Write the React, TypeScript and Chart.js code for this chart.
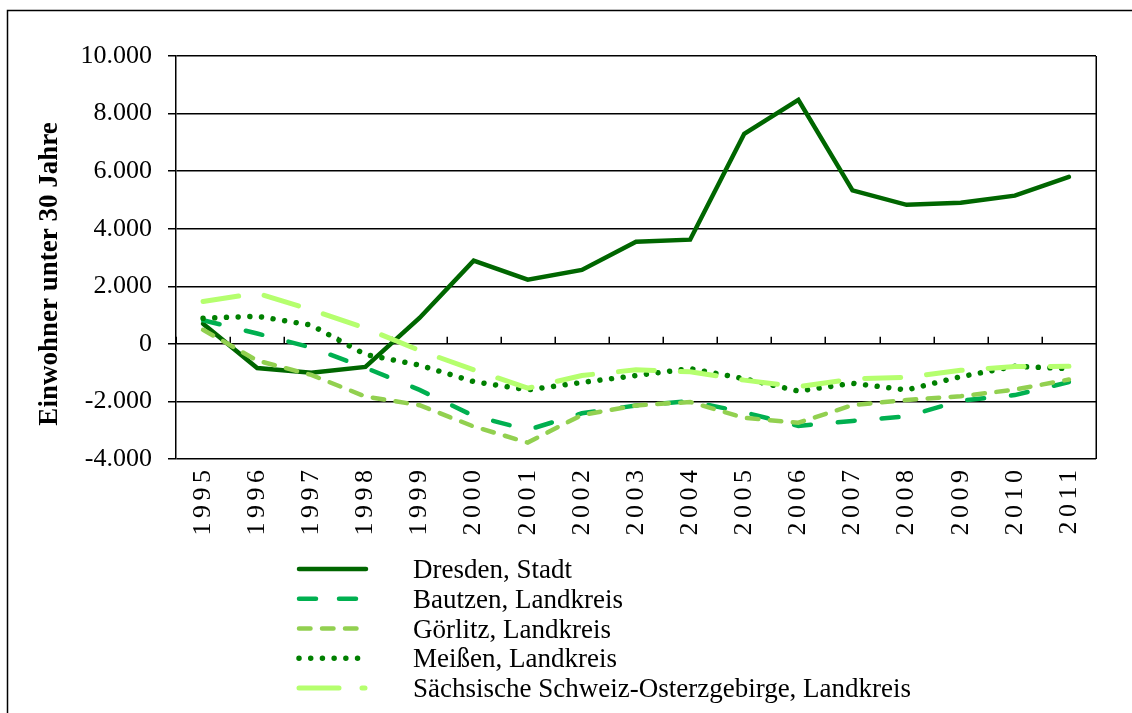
import React, { useEffect, useRef } from 'react';
import { Chart, registerables } from 'chart.js';

Chart.register(...registerables);

const YEARS = ['1995', '1996', '1997', '1998', '1999', '2000', '2001', '2002', '2003', '2004', '2005', '2006', '2007', '2008', '2009', '2010', '2011'];

const DRESDEN = [700, -840, -1000, -800, 900, 2890, 2230, 2570, 3550, 3620, 7300, 8480, 5330, 4830, 4900, 5150, 5800];
const BAUTZEN = [820, 360, -130, -830, -1600, -2500, -2990, -2410, -2140, -1990, -2380, -2850, -2680, -2520, -1970, -1780, -1330];
const GOERLITZ = [490, -580, -1080, -1830, -2130, -2870, -3430, -2470, -2140, -2020, -2570, -2740, -2130, -1950, -1820, -1590, -1240];
const MEISSEN = [890, 960, 650, -370, -740, -1310, -1600, -1340, -1100, -860, -1210, -1640, -1370, -1600, -1140, -780, -860];
const SAECHSISCHE = [1470, 1760, 1180, 545, -230, -900, -1540, -1100, -900, -970, -1260, -1490, -1220, -1160, -920, -790, -780];

const SERIES_NAMES = [
  'Dresden, Stadt',
  'Bautzen, Landkreis',
  'Görlitz, Landkreis',
  'Meißen, Landkreis',
  'Sächsische Schweiz-Osterzgebirge, Landkreis',
];

const Y_MIN = -4000;
const Y_MAX = 10000;
const Y_STEP = 2000;
const Y_TITLE = 'Einwohner unter 30 Jahre';

const FONT = '"Liberation Serif", "Times New Roman", serif';

function formatDE(v: number): string {
  const s = Math.abs(v).toString().replace(/\B(?=(\d{3})+(?!\d))/g, '.');
  return (v < 0 ? '-' : '') + s;
}

const framePlugin = {
  id: 'frame',
  beforeDraw(chart: any) {
    const { ctx, width, height } = chart;
    ctx.save();
    ctx.fillStyle = '#fff';
    ctx.fillRect(0, 0, width, height);
    ctx.strokeStyle = '#000';
    ctx.lineWidth = 1.5;
    ctx.beginPath();
    ctx.moveTo(7.5, height + 2);
    ctx.lineTo(7.5, 10.5);
    ctx.lineTo(width + 2, 10.5);
    ctx.stroke();
    ctx.restore();
  },
  beforeDatasetsDraw(chart: any) {
    const { ctx, chartArea, scales } = chart;
    const xs = scales.x;
    const ys = scales.y;
    const zeroY = ys.getPixelForValue(0);
    const half = (xs.getPixelForValue(1) - xs.getPixelForValue(0)) / 2;
    ctx.save();
    ctx.strokeStyle = '#000';
    ctx.lineWidth = 1.5;
    ctx.beginPath();
    for (let i = 0; i <= YEARS.length; i++) {
      const x = Math.round(xs.getPixelForValue(i) - half) + 0.25;
      ctx.moveTo(x, zeroY);
      ctx.lineTo(x, zeroY - 7);
    }
    // right border of plot area
    ctx.moveTo(chartArea.right + 0.25, chartArea.top);
    ctx.lineTo(chartArea.right + 0.25, chartArea.bottom);
    ctx.stroke();
    ctx.restore();
  },
  afterDraw(chart: any) {
    const { ctx, chartArea, scales } = chart;

    // x category labels (rotated, spaced)
    const xs = scales.x;
    const spacing = 4.5;
    chart.data.labels.forEach((lab: string, i: number) => {
      ctx.save();
      ctx.translate(xs.getPixelForValue(i), chartArea.bottom + 11);
      ctx.rotate(-Math.PI / 2);
      ctx.font = '26px ' + FONT;
      (ctx as any).letterSpacing = spacing + 'px';
      ctx.fillStyle = '#000';
      ctx.textAlign = 'right';
      ctx.textBaseline = 'middle';
      ctx.fillText(lab, spacing, 0);
      ctx.restore();
    });

    ctx.save();
    // y axis title
    ctx.translate(50, 274);
    ctx.rotate(-Math.PI / 2);
    ctx.font = 'bold 27px ' + FONT;
    ctx.fillStyle = '#000';
    ctx.textAlign = 'center';
    ctx.textBaseline = 'middle';
    ctx.fillText(Y_TITLE, 0, 0);
    ctx.restore();

    // legend
    ctx.save();
    chart.data.datasets.forEach((ds: any, i: number) => {
      const y = 569 + i * 29.75;
      ctx.beginPath();
      ctx.setLineDash(ds.legendDash || []);
      ctx.lineDashOffset = 0;
      ctx.lineCap = 'round';
      ctx.strokeStyle = ds.borderColor;
      ctx.lineWidth = ds.borderWidth;
      ctx.moveTo(299, y);
      ctx.lineTo(366, y);
      ctx.stroke();
      ctx.setLineDash([]);
      ctx.fillStyle = '#000';
      ctx.font = '27px ' + FONT;
      ctx.textAlign = 'left';
      ctx.textBaseline = 'middle';
      ctx.fillText(ds.label, 413, y + 2);
    });
    ctx.restore();
  },
};

export default function App() {
  const ref = useRef<HTMLCanvasElement>(null);

  useEffect(() => {
    if (!ref.current) return;
    const common = {
      pointRadius: 0,
      pointHoverRadius: 0,
      tension: 0,
      fill: false,
      borderCapStyle: 'round',
    };
    const chart = new Chart(ref.current, {
      type: 'line',
      data: {
        labels: YEARS,
        datasets: [
          { ...common, label: SERIES_NAMES[0], data: DRESDEN, borderColor: '#006600', borderWidth: 4.5, borderDash: [], legendDash: [], order: 5 },
          { ...common, label: SERIES_NAMES[1], data: BAUTZEN, borderColor: '#00B050', borderWidth: 4.5, borderDash: [17, 27], legendDash: [17, 23], order: 4 },
          { ...common, label: SERIES_NAMES[2], data: GOERLITZ, borderColor: '#92D050', borderWidth: 4.5, borderDash: [11.5, 11.5], legendDash: [11.5, 11.5], order: 3 },
          { ...common, label: SERIES_NAMES[3], data: MEISSEN, borderColor: '#008000', borderWidth: 5.5, borderDash: [0.01, 11.7], legendDash: [0.01, 11.7], order: 2 },
          { ...common, label: SERIES_NAMES[4], data: SAECHSISCHE, borderColor: '#B5FF6E', borderWidth: 5, borderDash: [36, 26], legendDash: [40, 23, 3, 23], order: 1 },
        ] as any,
      },
      options: {
        responsive: false,
        animation: false,
        events: [],
        layout: { padding: { top: 56, right: 36, bottom: 0, left: 0 } },
        plugins: {
          legend: { display: false },
          tooltip: { enabled: false },
          title: { display: false },
        },
        scales: {
          x: {
            type: 'category',
            offset: true,
            grid: { display: false, drawTicks: false },
            border: { display: false },
            ticks: { display: false, autoSkip: false },
            afterFit: (scale: any) => {
              scale.height = 254;
            },
          },
          y: {
            min: Y_MIN,
            max: Y_MAX,
            ticks: {
              stepSize: Y_STEP,
              padding: 16,
              color: '#000',
              font: { family: FONT, size: 26 },
              callback: (v: any) => formatDE(Number(v)),
            },
            grid: {
              color: '#000',
              lineWidth: 1.5,
              tickLength: 8,
              tickColor: '#000',
              tickWidth: 1.5,
            },
            border: { display: true, color: '#000', width: 1.5 },
            afterFit: (scale: any) => {
              scale.width = 176;
            },
          },
        },
      } as any,
      plugins: [framePlugin],
    });
    return () => chart.destroy();
  }, []);

  return (
    <div style={{ position: 'absolute', left: 0, top: 0, width: 1132, height: 713, background: '#fff' }}>
      <canvas ref={ref} width={1132} height={713} style={{ display: 'block' }} />
    </div>
  );
}
